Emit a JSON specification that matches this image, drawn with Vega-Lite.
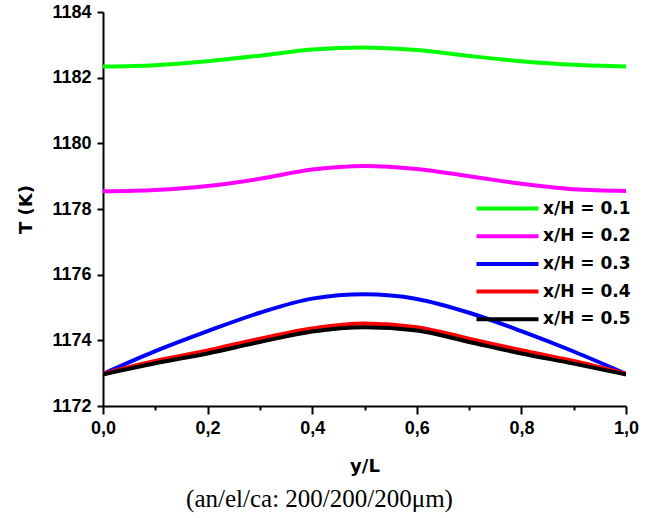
{
  "$schema": "https://vega.github.io/schema/vega-lite/v6.json",
  "autosize": "none",
  "width": 523,
  "height": 394,
  "padding": {"left": 103, "top": 12, "right": 33, "bottom": 112},
  "background": "white",
  "title": {"text": "(an/el/ca: 200/200/200μm)", "orient": "bottom", "anchor": "middle", "dx": -45, "offset": 12, "font": "Liberation Serif", "fontSize": 25, "fontWeight": "normal", "color": "black"},
  "data": {"values": [
    {"s": "x/H = 0.1", "x": 0.0, "t": 1182.34},
    {"s": "x/H = 0.1", "x": 0.1, "t": 1182.38},
    {"s": "x/H = 0.1", "x": 0.2, "t": 1182.5},
    {"s": "x/H = 0.1", "x": 0.3, "t": 1182.67},
    {"s": "x/H = 0.1", "x": 0.4, "t": 1182.86},
    {"s": "x/H = 0.1", "x": 0.5, "t": 1182.92},
    {"s": "x/H = 0.1", "x": 0.6, "t": 1182.84},
    {"s": "x/H = 0.1", "x": 0.7, "t": 1182.66},
    {"s": "x/H = 0.1", "x": 0.8, "t": 1182.5},
    {"s": "x/H = 0.1", "x": 0.9, "t": 1182.39},
    {"s": "x/H = 0.1", "x": 1.0, "t": 1182.34},
    {"s": "x/H = 0.2", "x": 0.0, "t": 1178.54},
    {"s": "x/H = 0.2", "x": 0.1, "t": 1178.58},
    {"s": "x/H = 0.2", "x": 0.2, "t": 1178.7},
    {"s": "x/H = 0.2", "x": 0.3, "t": 1178.92},
    {"s": "x/H = 0.2", "x": 0.4, "t": 1179.2},
    {"s": "x/H = 0.2", "x": 0.5, "t": 1179.31},
    {"s": "x/H = 0.2", "x": 0.6, "t": 1179.22},
    {"s": "x/H = 0.2", "x": 0.7, "t": 1179.0},
    {"s": "x/H = 0.2", "x": 0.8, "t": 1178.77},
    {"s": "x/H = 0.2", "x": 0.9, "t": 1178.6},
    {"s": "x/H = 0.2", "x": 1.0, "t": 1178.55},
    {"s": "x/H = 0.3", "x": 0.0, "t": 1172.98},
    {"s": "x/H = 0.3", "x": 0.1, "t": 1173.67},
    {"s": "x/H = 0.3", "x": 0.2, "t": 1174.28},
    {"s": "x/H = 0.3", "x": 0.3, "t": 1174.84},
    {"s": "x/H = 0.3", "x": 0.4, "t": 1175.27},
    {"s": "x/H = 0.3", "x": 0.5, "t": 1175.4},
    {"s": "x/H = 0.3", "x": 0.6, "t": 1175.26},
    {"s": "x/H = 0.3", "x": 0.7, "t": 1174.84},
    {"s": "x/H = 0.3", "x": 0.8, "t": 1174.28},
    {"s": "x/H = 0.3", "x": 0.9, "t": 1173.66},
    {"s": "x/H = 0.3", "x": 1.0, "t": 1172.98},
    {"s": "x/H = 0.4", "x": 0.0, "t": 1172.98},
    {"s": "x/H = 0.4", "x": 0.1, "t": 1173.37},
    {"s": "x/H = 0.4", "x": 0.2, "t": 1173.69},
    {"s": "x/H = 0.4", "x": 0.3, "t": 1174.05},
    {"s": "x/H = 0.4", "x": 0.4, "t": 1174.36},
    {"s": "x/H = 0.4", "x": 0.5, "t": 1174.51},
    {"s": "x/H = 0.4", "x": 0.6, "t": 1174.4},
    {"s": "x/H = 0.4", "x": 0.7, "t": 1174.05},
    {"s": "x/H = 0.4", "x": 0.8, "t": 1173.7},
    {"s": "x/H = 0.4", "x": 0.9, "t": 1173.37},
    {"s": "x/H = 0.4", "x": 1.0, "t": 1172.98},
    {"s": "x/H = 0.5", "x": 0.0, "t": 1172.96},
    {"s": "x/H = 0.5", "x": 0.1, "t": 1173.3},
    {"s": "x/H = 0.5", "x": 0.2, "t": 1173.6},
    {"s": "x/H = 0.5", "x": 0.3, "t": 1173.95},
    {"s": "x/H = 0.5", "x": 0.4, "t": 1174.27},
    {"s": "x/H = 0.5", "x": 0.5, "t": 1174.4},
    {"s": "x/H = 0.5", "x": 0.6, "t": 1174.3},
    {"s": "x/H = 0.5", "x": 0.7, "t": 1173.95},
    {"s": "x/H = 0.5", "x": 0.8, "t": 1173.6},
    {"s": "x/H = 0.5", "x": 0.9, "t": 1173.29},
    {"s": "x/H = 0.5", "x": 1.0, "t": 1172.96}
  ]},
  "mark": {"type": "line", "interpolate": "monotone", "strokeWidth": 4, "clip": true},
  "encoding": {
    "x": {"field": "x", "type": "quantitative", "title": "y/L",
      "scale": {"domain": [0, 1], "nice": false, "zero": false},
      "axis": {"values": [0, 0.1, 0.2, 0.3, 0.4, 0.5, 0.6, 0.7, 0.8, 0.9, 1.0],
        "labelExpr": "round(datum.value*10) % 2 == 1 ? '' : replace(format(datum.value, '.1f'), '.', ',')",
        "tickSize": {"condition": {"test": "round(datum.value*10) % 2 == 1", "value": 4}, "value": 8},
        "grid": false, "domainColor": "black", "domainWidth": 2, "tickColor": "black", "tickWidth": 2,
        "labelFont": "Liberation Sans", "labelFontSize": 18, "labelFontWeight": "bold", "labelColor": "black",
        "labelPadding": 5, "labelFlush": false, "labelOverlap": false,
        "titleFont": "DejaVu Sans", "titleFontSize": 18, "titleFontWeight": "bold", "titleColor": "black", "titlePadding": 20}},
    "y": {"field": "t", "type": "quantitative", "title": "T (K)",
      "scale": {"domain": [1172, 1184], "nice": false, "zero": false},
      "axis": {"values": [1172, 1174, 1176, 1178, 1180, 1182, 1184], "format": "d",
        "tickSize": 6,
        "grid": false, "domainColor": "black", "domainWidth": 2, "tickColor": "black", "tickWidth": 2,
        "labelFont": "Liberation Sans", "labelFontSize": 18, "labelFontWeight": "bold", "labelColor": "black",
        "labelPadding": 6, "labelFlush": false, "labelOverlap": false,
        "titleFont": "DejaVu Sans", "titleFontSize": 18, "titleFontWeight": "bold", "titleColor": "black", "titlePadding": 16}},
    "color": {"field": "s", "type": "nominal",
      "scale": {"domain": ["x/H = 0.1", "x/H = 0.2", "x/H = 0.3", "x/H = 0.4", "x/H = 0.5"], "range": ["#00ff00", "#ff00ff", "#0000ff", "#ff0000", "#000000"]},
      "legend": {"title": null, "orient": "none", "legendX": 392, "legendY": 184,
        "symbolType": "M-3,0L3,0", "symbolSize": 427, "symbolStrokeWidth": 4, "symbolFillColor": "transparent",
        "labelFont": "DejaVu Sans", "labelFontSize": 17, "labelFontWeight": "bold", "labelColor": "black",
        "rowPadding": 6.7, "labelOffset": 23}}
  },
  "config": {"view": {"stroke": null}}
}
